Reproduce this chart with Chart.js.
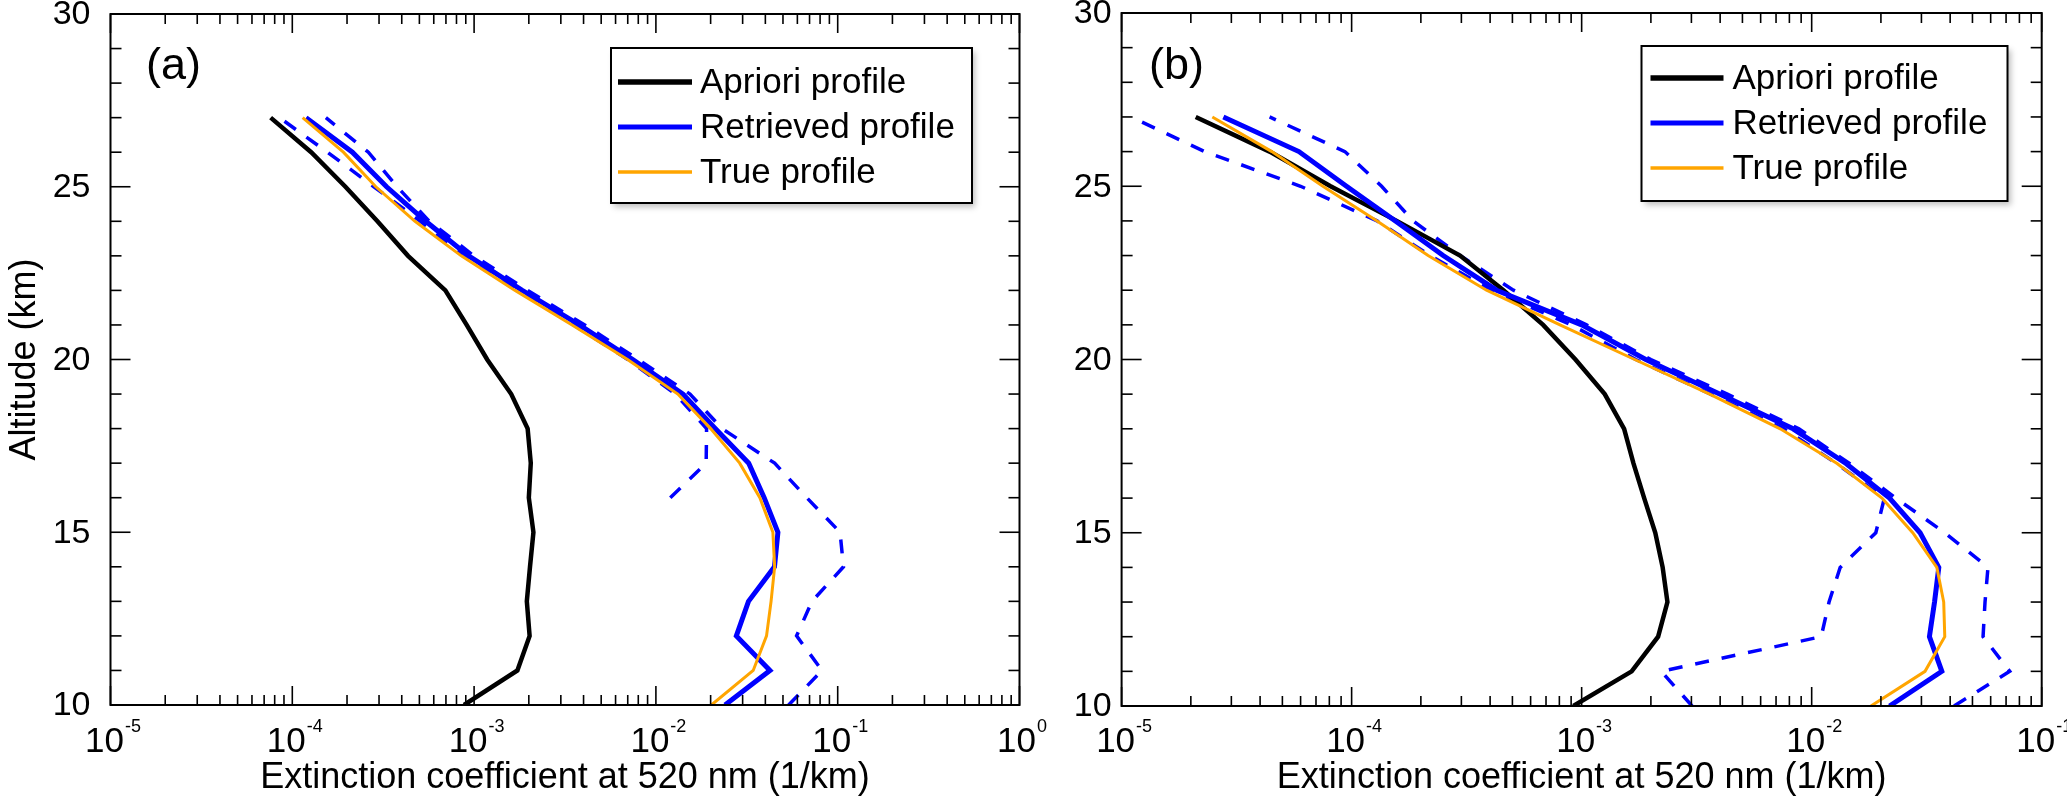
<!DOCTYPE html>
<html>
<head>
<meta charset="utf-8">
<script src="https://cdn.jsdelivr.net/npm/chart.js@4.4.0/dist/chart.umd.min.js"></script>
<style>
html,body{margin:0;padding:0;background:#fff;}
#wrap{position:relative;width:2067px;height:796px;overflow:hidden;}
.box{position:absolute;top:0;height:796px;}
</style>
</head>
<body>
<div id="wrap">
  <div class="box" style="left:0;width:1060px;"><canvas id="cA"></canvas></div>
  <div class="box" style="left:1060px;width:1007px;"><canvas id="cB"></canvas></div>
</div>
<script>
// ---------- data ----------
const altitudes = [10,11,12,13,14,15,16,17,18,19,20,21,22,23,24,25,26,27];

// panel (a)
const aprioriA   = [8.8e-4,1.73e-3,2.02e-3,1.95e-3,2.03e-3,2.12e-3,2.0e-3,2.05e-3,1.97e-3,1.6e-3,1.18e-3,9.1e-4,6.95e-4,4.33e-4,2.94e-4,1.96e-4,1.27e-4,7.6e-5];
const retrievedA = [0.024,0.0424,0.0277,0.0323,0.0449,0.0469,0.0394,0.0324,0.0212,0.0141,7.46e-3,3.79e-3,1.84e-3,9.33e-4,5.42e-4,3.30e-4,2.14e-4,1.19e-4];
const trueA      = [0.0202,0.0343,0.0406,0.043,0.045,0.044,0.0373,0.0289,0.020,0.0132,6.98e-3,3.46e-3,1.68e-3,8.5e-4,4.73e-4,2.88e-4,1.91e-4,1.14e-4];
const upperA     = [0.0537,0.082,0.0594,0.0722,0.1076,0.103,0.0676,0.0450,0.0231,0.0154,8.0e-3,4.06e-3,1.97e-3,9.98e-4,5.67e-4,3.77e-4,2.62e-4,1.53e-4];
const lowerA     = [null,null,null,null,null,null,0.012,0.0189,0.019,0.0128,7.0e-3,3.54e-3,1.72e-3,8.7e-4,5.07e-4,2.81e-4,1.56e-4,8.5e-5];

// panel (b)
const aprioriB   = [9.2e-4,1.65e-3,2.15e-3,2.36e-3,2.25e-3,2.09e-3,1.87e-3,1.68e-3,1.53e-3,1.26e-3,9.4e-4,6.8e-4,4.57e-4,2.96e-4,1.57e-4,8.1e-5,4.4e-5,2.1e-5];
const retrievedB = [0.0218,0.0368,0.0325,0.0342,0.0357,0.0296,0.0218,0.0141,8.3e-3,4.0e-3,1.9e-3,1.0e-3,4.27e-4,2.5e-4,1.55e-4,9.5e-5,5.9e-5,2.77e-5];
const trueB      = [0.0181,0.0311,0.0379,0.0375,0.035,0.0275,0.0202,0.0129,7.3e-3,3.6e-3,1.7e-3,8.05e-4,3.86e-4,2.15e-4,1.29e-4,7.5e-5,4.5e-5,2.48e-5];
const upperB     = [0.0416,0.0726,0.0556,0.0567,0.0584,0.0379,0.0232,0.0146,8.8e-3,4.3e-3,2.0e-3,1.05e-3,5.05e-4,2.96e-4,1.85e-4,1.35e-4,9.35e-5,4.4e-5];
const lowerB     = [3.02e-3,2.22e-3,0.011,0.0119,0.0133,0.019,0.0207,0.0128,7.6e-3,3.64e-3,1.72e-3,9.0e-4,4.06e-4,2.19e-4,1.29e-4,6.0e-5,2.3e-5,1.1e-5];

// axes / labels
const yTickValues   = [10,15,20,25,30];
const xExponentsA   = [-5,-4,-3,-2,-1,0];
const xExponentsB   = [-5,-4,-3,-2,-1];
const seriesLabels  = ['Apriori profile','Retrieved profile','True profile'];
const xTitle = 'Extinction coefficient at 520 nm (1/km)';
const yTitle = 'Altitude (km)';

// ---------- helpers ----------
const FONT = '"Liberation Sans", Arial, Helvetica, sans-serif';
const COL_APR = '#000000', COL_RET = '#0000ff', COL_TRUE = '#ffa500';
const DASH = [14, 13];

function pts(arr){
  const out = [];
  altitudes.forEach((a,i)=>{ if(arr[i]!=null) out.push({x:arr[i], y:a}); });
  return out;
}
function ds(label, arr, color, width, dash){
  return {label, data: pts(arr), borderColor: color, backgroundColor: color,
    borderWidth: width, borderDash: dash || [], showLine: true, pointRadius: 0,
    pointHoverRadius: 0, tension: 0, fill: false, borderCapStyle: 'butt', borderJoinStyle: 'miter'};
}
function line(ctx,x1,y1,x2,y2){ ctx.beginPath(); ctx.moveTo(x1,y1); ctx.lineTo(x2,y2); ctx.stroke(); }

function decorPlugin(cfg){
  return {
    id: 'decor',
    afterDraw(chart){
      const ctx = chart.ctx, xs = chart.scales.x, ys = chart.scales.y, a = chart.chartArea;
      ctx.save();
      ctx.strokeStyle = '#000'; ctx.fillStyle = '#000';
      // frame
      ctx.lineWidth = 2;
      ctx.strokeRect(a.left, a.top, a.right - a.left, a.bottom - a.top);
      ctx.lineWidth = 1.6;
      // y ticks (inward on both sides)
      for (let v = ys.min; v <= ys.max; v++){
        const py = ys.getPixelForValue(v);
        const len = (v % 5 === 0) ? 20 : 11;
        line(ctx, a.left, py, a.left + len, py);
        line(ctx, a.right, py, a.right - len, py);
      }
      // x ticks (inward, bottom and top)
      const exps = cfg.exps;
      for (let k = 0; k < exps.length; k++){
        const e = exps[k];
        const mMax = (k === exps.length - 1) ? 1 : 9;
        for (let m = 1; m <= mMax; m++){
          const v = m * Math.pow(10, e);
          const px = xs.getPixelForValue(v);
          const len = (m === 1) ? 19 : 10;
          line(ctx, px, a.bottom, px, a.bottom - len);
          line(ctx, px, a.top, px, a.top + len);
        }
      }
      // y tick labels
      ctx.font = '34px ' + FONT;
      ctx.textAlign = 'right'; ctx.textBaseline = 'middle';
      yTickValues.forEach(v => {
        ctx.fillText(String(v), a.left - cfg.yLabelGap, ys.getPixelForValue(v) + 1);
      });
      // x tick labels 10^e
      ctx.textBaseline = 'alphabetic'; ctx.textAlign = 'left';
      exps.forEach(e => {
        const px = xs.getPixelForValue(Math.pow(10, e));
        ctx.font = '35px ' + FONT;
        const wBase = ctx.measureText('10').width;
        ctx.font = '18px ' + FONT;
        const sup = String(e);
        const wSup = ctx.measureText(sup).width;
        const x0 = px - (wBase + wSup) / 2 + 2;
        ctx.font = '35px ' + FONT;
        ctx.fillText('10', x0, 752);
        ctx.font = '18px ' + FONT;
        ctx.fillText(sup, x0 + wBase + 1, 732);
      });
      // x title
      ctx.font = '36px ' + FONT;
      ctx.textAlign = 'center'; ctx.textBaseline = 'alphabetic';
      ctx.fillText(xTitle, (a.left + a.right) / 2, 788);
      // y title
      if (cfg.showYTitle){
        ctx.save();
        ctx.translate(35, (a.top + a.bottom) / 2);
        ctx.rotate(-Math.PI / 2);
        ctx.font = '36px ' + FONT;
        ctx.textAlign = 'center'; ctx.textBaseline = 'alphabetic';
        ctx.fillText(yTitle, 0, 0);
        ctx.restore();
      }
      // panel label
      ctx.font = '45px ' + FONT;
      ctx.textAlign = 'left'; ctx.textBaseline = 'middle';
      ctx.fillText(cfg.panel, cfg.panelX, 67);
      // legend
      const L = cfg.legend;
      ctx.save();
      ctx.shadowColor = 'rgba(0,0,0,0.25)';
      ctx.shadowBlur = 6; ctx.shadowOffsetX = 3; ctx.shadowOffsetY = 4;
      ctx.fillStyle = '#fff';
      ctx.fillRect(L.x, L.y, L.w, L.h);
      ctx.restore();
      ctx.lineWidth = 2; ctx.strokeStyle = '#000';
      ctx.strokeRect(L.x, L.y, L.w, L.h);
      const items = [[COL_APR, 5.5], [COL_RET, 5], [COL_TRUE, 3.5]];
      ctx.font = '35px ' + FONT;
      ctx.textAlign = 'left'; ctx.textBaseline = 'middle';
      items.forEach((it, i) => {
        const yy = L.y + L.row0 + i * L.rowH;
        ctx.strokeStyle = it[0]; ctx.lineWidth = it[1];
        line(ctx, L.x + L.lx0, yy, L.x + L.lx1, yy);
        ctx.fillStyle = '#000';
        ctx.fillText(seriesLabels[i], L.x + L.tx, yy + 1);
      });
      ctx.restore();
    }
  };
}

function makeChart(id, sets, xmax, padding, cfg){
  return new Chart(document.getElementById(id), {
    type: 'scatter',
    data: { datasets: sets },
    options: {
      responsive: true, maintainAspectRatio: false, animation: false,
      devicePixelRatio: 1,
      layout: { padding },
      plugins: { legend: { display: false }, tooltip: { enabled: false } },
      events: [],
      scales: {
        x: { type: 'logarithmic', min: 1e-5, max: xmax, display: false },
        y: { type: 'linear', min: 10, max: 30, display: false }
      }
    },
    plugins: [decorPlugin(cfg)]
  });
}

const setsA = [
  ds(seriesLabels[2], trueA, COL_TRUE, 3),
  ds(seriesLabels[1], retrievedA, COL_RET, 5),
  ds(seriesLabels[0], aprioriA, COL_APR, 4.5),
  ds('Upper bound', upperA, COL_RET, 3.5, DASH),
  ds('Lower bound', lowerA, COL_RET, 3.5, DASH)
];
const setsB = [
  ds(seriesLabels[2], trueB, COL_TRUE, 3),
  ds(seriesLabels[1], retrievedB, COL_RET, 5),
  ds(seriesLabels[0], aprioriB, COL_APR, 4.5),
  ds('Upper bound', upperB, COL_RET, 3.5, DASH),
  ds('Lower bound', lowerB, COL_RET, 3.5, DASH)
];

makeChart('cA', setsA, 1, {left: 110.5, right: 40.5, top: 14, bottom: 91}, {
  exps: xExponentsA, yLabelGap: 20, showYTitle: true, panel: '(a)', panelX: 146,
  legend: {x: 611, y: 48, w: 361, h: 155, row0: 34, rowH: 45, lx0: 7, lx1: 81, tx: 89}
});
makeChart('cB', setsB, 0.1, {left: 61.6, right: 25.3, top: 13, bottom: 90}, {
  exps: xExponentsB, yLabelGap: 10, showYTitle: false, panel: '(b)', panelX: 89,
  legend: {x: 581.5, y: 46, w: 366, h: 155, row0: 32, rowH: 45, lx0: 9, lx1: 82, tx: 91}
});
</script>
</body>
</html>
